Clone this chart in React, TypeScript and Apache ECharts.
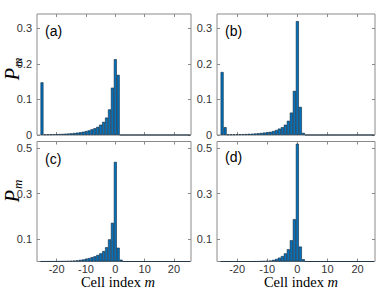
import React, { useEffect, useRef } from 'react';
import * as echarts from 'echarts';

// Cell index m = -25 .. 25
const cells: number[] = [
  -25, -24, -23, -22, -21, -20, -19, -18, -17, -16, -15, -14, -13, -12, -11, -10, -9, -8, -7, -6, -5, -4, -3, -2, -1,
  0, 1, 2, 3, 4, 5, 6, 7, 8, 9, 10, 11, 12, 13, 14, 15, 16, 17, 18, 19, 20, 21, 22, 23, 24, 25,
];

const probA: number[] = [
  0.148, 0.0015, 0.0017, 0.0019, 0.0022, 0.0025, 0.0028, 0.0032, 0.0037, 0.0042, 0.0049, 0.0057, 0.0066, 0.0077, 0.0091,
  0.011, 0.013, 0.016, 0.019, 0.023, 0.029, 0.037, 0.049, 0.072, 0.133,
  0.213, 0.169, 0, 0, 0, 0, 0, 0, 0, 0, 0, 0, 0, 0, 0, 0, 0, 0, 0, 0, 0, 0, 0, 0, 0, 0,
];

const probB: number[] = [
  0.177, 0.022, 0.0014, 0.0015, 0.0017, 0.0019, 0.0021, 0.0024, 0.0028, 0.0032, 0.0037, 0.0043, 0.005, 0.0058, 0.0068,
  0.008, 0.009, 0.011, 0.014, 0.018, 0.022, 0.029, 0.04, 0.063, 0.124,
  0.32, 0.079, 0.006, 0, 0, 0, 0, 0, 0, 0, 0, 0, 0, 0, 0, 0, 0, 0, 0, 0, 0, 0, 0, 0, 0, 0,
];

const probC: number[] = [
  0.0002, 0.0002, 0.0003, 0.0003, 0.0004, 0.0005, 0.0008, 0.001, 0.0015, 0.002, 0.003, 0.004, 0.005, 0.007, 0.009,
  0.012, 0.015, 0.019, 0.023, 0.029, 0.036, 0.046, 0.063, 0.098, 0.171,
  0.44, 0.061, 0.008, 0, 0, 0, 0, 0, 0, 0, 0, 0, 0, 0, 0, 0, 0, 0, 0, 0, 0, 0, 0, 0, 0, 0,
];

const probD: number[] = [
  0, 0, 0, 0, 0, 0, 0, 0, 0, 0, 0, 0.0002, 0.0005, 0.001, 0.0015,
  0.0025, 0.004, 0.007, 0.011, 0.017, 0.024, 0.036, 0.054, 0.094, 0.187,
  0.52, 0.066, 0.01, 0, 0, 0, 0, 0, 0, 0, 0, 0, 0, 0, 0, 0, 0, 0, 0, 0, 0, 0, 0, 0, 0, 0,
];

const xTicks: number[] = [-20, -10, 0, 10, 20];
const yTicksTop: number[] = [0, 0.1, 0.2, 0.3];
const yTicksBottom: number[] = [0.1, 0.3, 0.5];
const panelLabels: string[] = ['(a)', '(b)', '(c)', '(d)'];

export default function App() {
  const ref = useRef<HTMLDivElement>(null);

  useEffect(() => {
    if (!ref.current) return;
    const chart = echarts.init(ref.current, undefined, { renderer: 'svg' });

    const series = [probA, probB, probC, probD];
    const grids = [
      { left: 37, top: 14, width: 154, height: 121 },
      { left: 217, top: 14, width: 158, height: 121 },
      { left: 37, top: 141.5, width: 154, height: 120 },
      { left: 217, top: 141.5, width: 158, height: 120 },
    ];
    const frame = '#8a8a8a';
    const textCol = '#333333';

    const xAxes: any[] = [];
    const yAxes: any[] = [];
    grids.forEach((_, i) => {
      const yTicks = i < 2 ? yTicksTop : yTicksBottom;
      const yMax = i < 2 ? 0.34 : 0.53;
      ['bottom', 'top'].forEach((pos) => {
        xAxes.push({
          gridIndex: i,
          type: 'value',
          position: pos,
          min: -26.7,
          max: 25.8,
          axisLine: { show: false, onZero: false },
          splitLine: { show: false },
          axisTick: { inside: true, length: 3, customValues: xTicks, lineStyle: { color: frame } },
          axisLabel: {
            show: pos === 'bottom' && i >= 2,
            customValues: xTicks,
            color: textCol,
            fontSize: 11,
            lineHeight: 11,
            fontFamily: 'Liberation Sans',
            margin: 2,
          },
        });
      });
      ['left', 'right'].forEach((pos) => {
        yAxes.push({
          gridIndex: i,
          type: 'value',
          position: pos,
          min: 0,
          max: yMax,
          axisLine: { show: false, onZero: false },
          splitLine: { show: false },
          axisTick: { inside: true, length: 3, customValues: yTicks, lineStyle: { color: frame } },
          axisLabel: {
            show: pos === 'left',
            customValues: yTicks,
            color: textCol,
            fontSize: 11,
            fontFamily: 'Liberation Sans',
            margin: 5,
          },
        });
      });
    });

    const graphic: any[] = [];
    const labelPos = [
      [45, 31],
      [225, 31],
      [45, 159],
      [225, 157],
    ];
    panelLabels.forEach((t, i) => {
      graphic.push({
        type: 'text',
        x: labelPos[i][0],
        y: labelPos[i][1],
        style: {
          text: t,
          fontSize: 14,
          fontFamily: 'Liberation Sans',
          fill: '#000',
          align: 'left',
          verticalAlign: 'middle',
        },
      });
    });
    [69, 191].forEach((cy) => {
      graphic.push({
        type: 'text',
        x: 12,
        y: cy,
        rotation: Math.PI / 2,
        style: {
          text: '{P|P}{m|m}',
          align: 'center',
          verticalAlign: 'middle',
          rich: {
            P: {
              fontSize: 20,
              lineHeight: 22,
              fontStyle: 'italic',
              fontFamily: 'Liberation Serif',
              fill: '#000',
              color: '#000',
              verticalAlign: 'middle',
            },
            m: {
              fontSize: 13,
              lineHeight: 22,
              fontStyle: 'italic',
              fontFamily: 'Liberation Serif',
              fill: '#000',
              color: '#000',
              padding: [10, 0, 0, 1],
            },
          },
        },
      });
    });
    [118, 301].forEach((cx) => {
      graphic.push({
        type: 'text',
        x: cx,
        y: 282,
        style: {
          text: '{a|Cell index }{b|m}',
          align: 'center',
          verticalAlign: 'middle',
          rich: {
            a: { fontSize: 14.5, fontFamily: 'Liberation Serif', fill: '#000', color: '#000' },
            b: { fontSize: 14.5, fontStyle: 'italic', fontFamily: 'Liberation Serif', fill: '#000', color: '#000' },
          },
        },
      });
    });

    chart.setOption({
      animation: false,
      backgroundColor: '#ffffff',
      grid: grids.map((g) => ({ ...g, show: true, borderColor: frame, borderWidth: 1, backgroundColor: 'transparent' })),
      xAxis: xAxes,
      yAxis: yAxes,
      series: series.map((vals, i) => ({
        type: 'bar',
        xAxisIndex: 2 * i,
        yAxisIndex: 2 * i,
        barWidth: i % 2 === 0 ? 2.93 : 3.0,
        silent: true,
        itemStyle: { color: '#0072BD', borderColor: '#10263a', borderWidth: 0.6 },
        data: cells.map((m, k) => [m, vals[k]]),
      })),
      graphic,
    });

    return () => chart.dispose();
  }, []);

  return <div ref={ref} style={{ width: 382, height: 289, position: 'absolute', left: 0, top: 0 }} />;
}
